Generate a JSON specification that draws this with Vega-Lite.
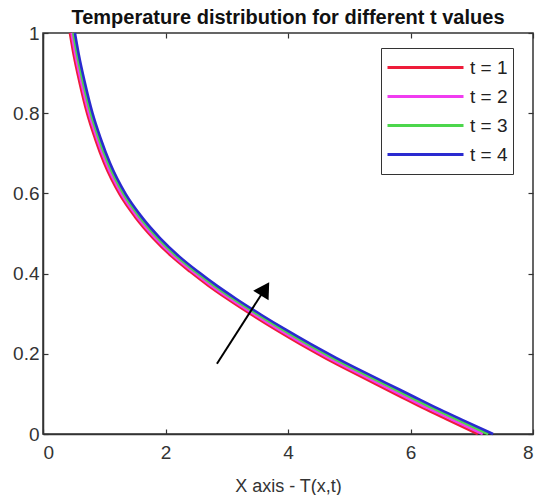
{
  "$schema": "https://vega.github.io/schema/vega-lite/v6.json",
  "width": 490,
  "height": 401,
  "autosize": "none",
  "padding": {"left": 43, "top": 33, "right": 10, "bottom": 61},
  "background": "white",
  "title": {
    "text": "Temperature distribution for different t values",
    "font": "Liberation Sans",
    "fontSize": 20,
    "fontWeight": "bold",
    "color": "#111111",
    "anchor": "middle",
    "offset": -4
  },
  "config": {
    "view": {"stroke": "#333333", "strokeWidth": 1.5},
    "axis": {
      "grid": false,
      "domainColor": "#333333",
      "domainWidth": 1.5,
      "tickColor": "#333333",
      "tickWidth": 1.2,
      "tickSize": -5,
      "labelFont": "Liberation Sans",
      "labelFontSize": 19,
      "labelColor": "#333333",
      "titleFont": "Liberation Sans",
      "titleFontSize": 18,
      "titleFontWeight": "normal",
      "titleColor": "#333333"
    }
  },
  "datasets": {
    "curves": [
      {"series": "t = 1", "x": 0.44, "y": 1.0},
      {"series": "t = 1", "x": 0.5, "y": 0.947},
      {"series": "t = 1", "x": 0.6, "y": 0.875},
      {"series": "t = 1", "x": 0.72, "y": 0.8},
      {"series": "t = 1", "x": 0.85, "y": 0.737},
      {"series": "t = 1", "x": 1.0, "y": 0.675},
      {"series": "t = 1", "x": 1.25, "y": 0.598},
      {"series": "t = 1", "x": 1.5, "y": 0.542},
      {"series": "t = 1", "x": 1.8, "y": 0.488},
      {"series": "t = 1", "x": 2.1, "y": 0.443},
      {"series": "t = 1", "x": 2.4, "y": 0.405},
      {"series": "t = 1", "x": 2.7, "y": 0.37},
      {"series": "t = 1", "x": 3.0, "y": 0.338},
      {"series": "t = 1", "x": 3.4, "y": 0.298},
      {"series": "t = 1", "x": 3.8, "y": 0.26},
      {"series": "t = 1", "x": 4.2, "y": 0.224},
      {"series": "t = 1", "x": 4.6, "y": 0.19},
      {"series": "t = 1", "x": 5.0, "y": 0.158},
      {"series": "t = 1", "x": 5.4, "y": 0.127},
      {"series": "t = 1", "x": 5.8, "y": 0.096},
      {"series": "t = 1", "x": 6.2, "y": 0.065},
      {"series": "t = 1", "x": 6.6, "y": 0.036},
      {"series": "t = 1", "x": 7.1, "y": 0.0},
      {"series": "t = 2", "x": 0.467, "y": 1.0},
      {"series": "t = 2", "x": 0.527, "y": 0.947},
      {"series": "t = 2", "x": 0.628, "y": 0.875},
      {"series": "t = 2", "x": 0.749, "y": 0.8},
      {"series": "t = 2", "x": 0.88, "y": 0.737},
      {"series": "t = 2", "x": 1.031, "y": 0.675},
      {"series": "t = 2", "x": 1.283, "y": 0.598},
      {"series": "t = 2", "x": 1.535, "y": 0.542},
      {"series": "t = 2", "x": 1.837, "y": 0.488},
      {"series": "t = 2", "x": 2.14, "y": 0.443},
      {"series": "t = 2", "x": 2.442, "y": 0.405},
      {"series": "t = 2", "x": 2.745, "y": 0.37},
      {"series": "t = 2", "x": 3.047, "y": 0.338},
      {"series": "t = 2", "x": 3.45, "y": 0.298},
      {"series": "t = 2", "x": 3.853, "y": 0.26},
      {"series": "t = 2", "x": 4.257, "y": 0.224},
      {"series": "t = 2", "x": 4.66, "y": 0.19},
      {"series": "t = 2", "x": 5.063, "y": 0.158},
      {"series": "t = 2", "x": 5.466, "y": 0.127},
      {"series": "t = 2", "x": 5.869, "y": 0.096},
      {"series": "t = 2", "x": 6.273, "y": 0.065},
      {"series": "t = 2", "x": 6.676, "y": 0.036},
      {"series": "t = 2", "x": 7.18, "y": 0.0},
      {"series": "t = 3", "x": 0.494, "y": 1.0},
      {"series": "t = 3", "x": 0.556, "y": 0.947},
      {"series": "t = 3", "x": 0.657, "y": 0.875},
      {"series": "t = 3", "x": 0.779, "y": 0.8},
      {"series": "t = 3", "x": 0.911, "y": 0.737},
      {"series": "t = 3", "x": 1.064, "y": 0.675},
      {"series": "t = 3", "x": 1.318, "y": 0.598},
      {"series": "t = 3", "x": 1.573, "y": 0.542},
      {"series": "t = 3", "x": 1.878, "y": 0.488},
      {"series": "t = 3", "x": 2.183, "y": 0.443},
      {"series": "t = 3", "x": 2.488, "y": 0.405},
      {"series": "t = 3", "x": 2.793, "y": 0.37},
      {"series": "t = 3", "x": 3.098, "y": 0.338},
      {"series": "t = 3", "x": 3.505, "y": 0.298},
      {"series": "t = 3", "x": 3.912, "y": 0.26},
      {"series": "t = 3", "x": 4.318, "y": 0.224},
      {"series": "t = 3", "x": 4.725, "y": 0.19},
      {"series": "t = 3", "x": 5.132, "y": 0.158},
      {"series": "t = 3", "x": 5.539, "y": 0.127},
      {"series": "t = 3", "x": 5.946, "y": 0.096},
      {"series": "t = 3", "x": 6.352, "y": 0.065},
      {"series": "t = 3", "x": 6.759, "y": 0.036},
      {"series": "t = 3", "x": 7.268, "y": 0.0},
      {"series": "t = 4", "x": 0.521, "y": 1.0},
      {"series": "t = 4", "x": 0.583, "y": 0.947},
      {"series": "t = 4", "x": 0.685, "y": 0.875},
      {"series": "t = 4", "x": 0.808, "y": 0.8},
      {"series": "t = 4", "x": 0.941, "y": 0.737},
      {"series": "t = 4", "x": 1.095, "y": 0.675},
      {"series": "t = 4", "x": 1.351, "y": 0.598},
      {"series": "t = 4", "x": 1.608, "y": 0.542},
      {"series": "t = 4", "x": 1.915, "y": 0.488},
      {"series": "t = 4", "x": 2.223, "y": 0.443},
      {"series": "t = 4", "x": 2.53, "y": 0.405},
      {"series": "t = 4", "x": 2.838, "y": 0.37},
      {"series": "t = 4", "x": 3.145, "y": 0.338},
      {"series": "t = 4", "x": 3.555, "y": 0.298},
      {"series": "t = 4", "x": 3.965, "y": 0.26},
      {"series": "t = 4", "x": 4.375, "y": 0.224},
      {"series": "t = 4", "x": 4.785, "y": 0.19},
      {"series": "t = 4", "x": 5.195, "y": 0.158},
      {"series": "t = 4", "x": 5.605, "y": 0.127},
      {"series": "t = 4", "x": 6.015, "y": 0.096},
      {"series": "t = 4", "x": 6.425, "y": 0.065},
      {"series": "t = 4", "x": 6.835, "y": 0.036},
      {"series": "t = 4", "x": 7.348, "y": 0.0}
    ],
    "arrow": [
      {"x": 2.84, "y": 0.175},
      {"x": 3.62, "y": 0.361}
    ],
    "arrowhead": [
      {"x": 3.625, "y": 0.362}
    ]
  },
  "resolve": {"axis": {"x": "independent", "y": "independent"}},
  "layer": [
    {
      "data": {"name": "curves"},
      "mark": {"type": "line", "strokeWidth": 2.6, "interpolate": "monotone"},
      "encoding": {
        "x": {
          "field": "x", "type": "quantitative",
          "scale": {"domain": [0, 8], "nice": false, "zero": false},
          "axis": {"values": [0, 2, 4, 6, 8], "title": "X axis - T(x,t)", "labelPadding": 14, "titlePadding": 15, "format": "~g"}
        },
        "y": {
          "field": "y", "type": "quantitative",
          "scale": {"domain": [0, 1], "nice": false},
          "axis": {"values": [0, 0.2, 0.4, 0.6, 0.8, 1], "title": null, "labelPadding": 9, "format": "~g"}
        },
        "color": {
          "field": "series", "type": "nominal",
          "scale": {"domain": ["t = 1", "t = 2", "t = 3", "t = 4"], "range": ["#ee1c3a", "#f03cf0", "#4cd64c", "#2a2ad0"]},
          "legend": {
            "title": null,
            "orient": "none",
            "legendX": 338,
            "legendY": 15,
            "symbolType": "stroke",
            "symbolSize": 5776,
            "symbolStrokeWidth": 3,
            "clipHeight": 29,
            "rowPadding": 0,
            "padding": 5,
            "labelOffset": 5,
            "labelFont": "Liberation Sans",
            "labelFontSize": 19,
            "labelColor": "#222222",
            "strokeColor": "#333333",
            "fillColor": "white"
          }
        }
      }
    },
    {
      "data": {"name": "arrow"},
      "mark": {"type": "line", "color": "black", "strokeWidth": 2},
      "encoding": {
        "x": {"field": "x", "type": "quantitative", "scale": {"domain": [0, 8], "nice": false}, "axis": {"orient": "top", "values": [0, 2, 4, 6, 8], "labels": false, "title": null, "domain": false}},
        "y": {"field": "y", "type": "quantitative", "scale": {"domain": [0, 1], "nice": false}, "axis": {"orient": "right", "values": [0, 0.2, 0.4, 0.6, 0.8, 1], "labels": false, "title": null, "domain": false}}
      }
    },
    {
      "data": {"name": "arrowhead"},
      "mark": {"type": "point", "shape": "triangle-up", "filled": true, "color": "black", "size": 330, "angle": 32, "opacity": 1},
      "encoding": {
        "x": {"field": "x", "type": "quantitative", "axis": null},
        "y": {"field": "y", "type": "quantitative", "axis": null}
      }
    }
  ]
}
